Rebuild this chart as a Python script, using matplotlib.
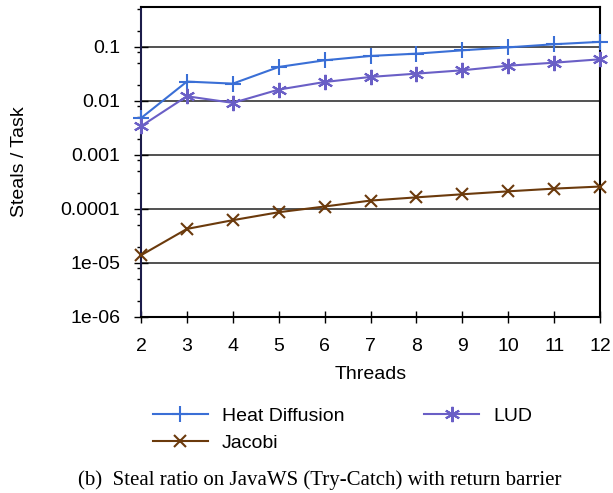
import matplotlib
matplotlib.use("Agg")
import matplotlib.pyplot as plt
from matplotlib.ticker import LogLocator, FixedLocator, NullFormatter

threads = [2, 3, 4, 5, 6, 7, 8, 9, 10, 11, 12]
heat = [0.0048, 0.0228, 0.0209, 0.0425, 0.0565, 0.068, 0.075, 0.0865, 0.098, 0.112, 0.124]
lud = [0.0034, 0.0122, 0.0092, 0.0162, 0.0224, 0.0278, 0.032, 0.0369, 0.0449, 0.051, 0.059]
jacobi = [1.39e-5, 4.27e-5, 6.2e-5, 8.7e-5, 1.11e-4, 1.43e-4, 1.64e-4, 1.87e-4, 2.12e-4, 2.38e-4, 2.6e-4]
ytick_vals = [1e-6, 1e-5, 1e-4, 1e-3, 1e-2, 1e-1]
ytick_labels = ["1e-06", "1e-05", "0.0001", "0.001", "0.01", "0.1"]

plt.rcParams['font.family'] = ['Liberation Sans', 'DejaVu Sans']

fig = plt.figure(figsize=(6.13, 4.93), dpi=100)
ax = fig.add_axes([0.230, 0.357, 0.749, 0.629])

ax.set_yscale('log')
ax.set_ylim(1e-6, 0.55)
ax.set_xlim(2, 12)

for v in ytick_vals:
    ax.axhline(v, color='#333333', lw=1.2, zorder=1)

l1, = ax.plot(threads, heat, color='#3a6fd6', lw=1.5, marker='+', ms=11, mew=1.5, label='Heat Diffusion', clip_on=False, zorder=3)
l2, = ax.plot(threads, jacobi, color='#6b3a0c', lw=1.5, marker='x', ms=9, mew=1.5, label='Jacobi', clip_on=False, zorder=3)
l3, = ax.plot(threads, lud, color='#6a5fc6', lw=1.5, marker=(6, 2, 0), ms=11, mew=1.5, label='LUD', clip_on=False, zorder=3)

ax.yaxis.set_major_locator(FixedLocator(ytick_vals))
ax.set_yticklabels(ytick_labels)
ax.yaxis.set_minor_locator(LogLocator(base=10, subs=[2, 5, 8]))
ax.yaxis.set_minor_formatter(NullFormatter())
ax.set_xticks(threads)
ax.set_xticklabels([str(t) for t in threads])

ax.tick_params(axis='both', which='major', labelsize=14, width=1, direction='inout', colors='black')
ax.tick_params(axis='y', which='minor', length=3, width=1, direction='out')
ax.tick_params(axis='y', which='major', length=10, pad=10)
ax.tick_params(axis='x', which='major', length=8, pad=11)

for s in ax.spines.values():
    s.set_linewidth(1.5)
    s.set_color('black')
ax.spines['left'].set_color('#1c1c4a')

ax.set_xlabel('Threads', fontsize=14, labelpad=8)
ax.set_ylabel('Steals / Task', fontsize=14, labelpad=23)

fig.legend(handles=[l1, l2, l3], loc='upper left', bbox_to_anchor=(0.237, 0.189), ncol=2,
           frameon=False, fontsize=14, handlelength=2.8, columnspacing=4.1,
           handletextpad=0.75, labelspacing=0.45, borderaxespad=0)

fig.text(0.522, 0.027, '(b)  Steal ratio on JavaWS (Try-Catch) with return barrier',
         ha='center', va='center', fontsize=15, family=['Liberation Serif', 'DejaVu Serif'])

fig.savefig('out.png', dpi=100)
